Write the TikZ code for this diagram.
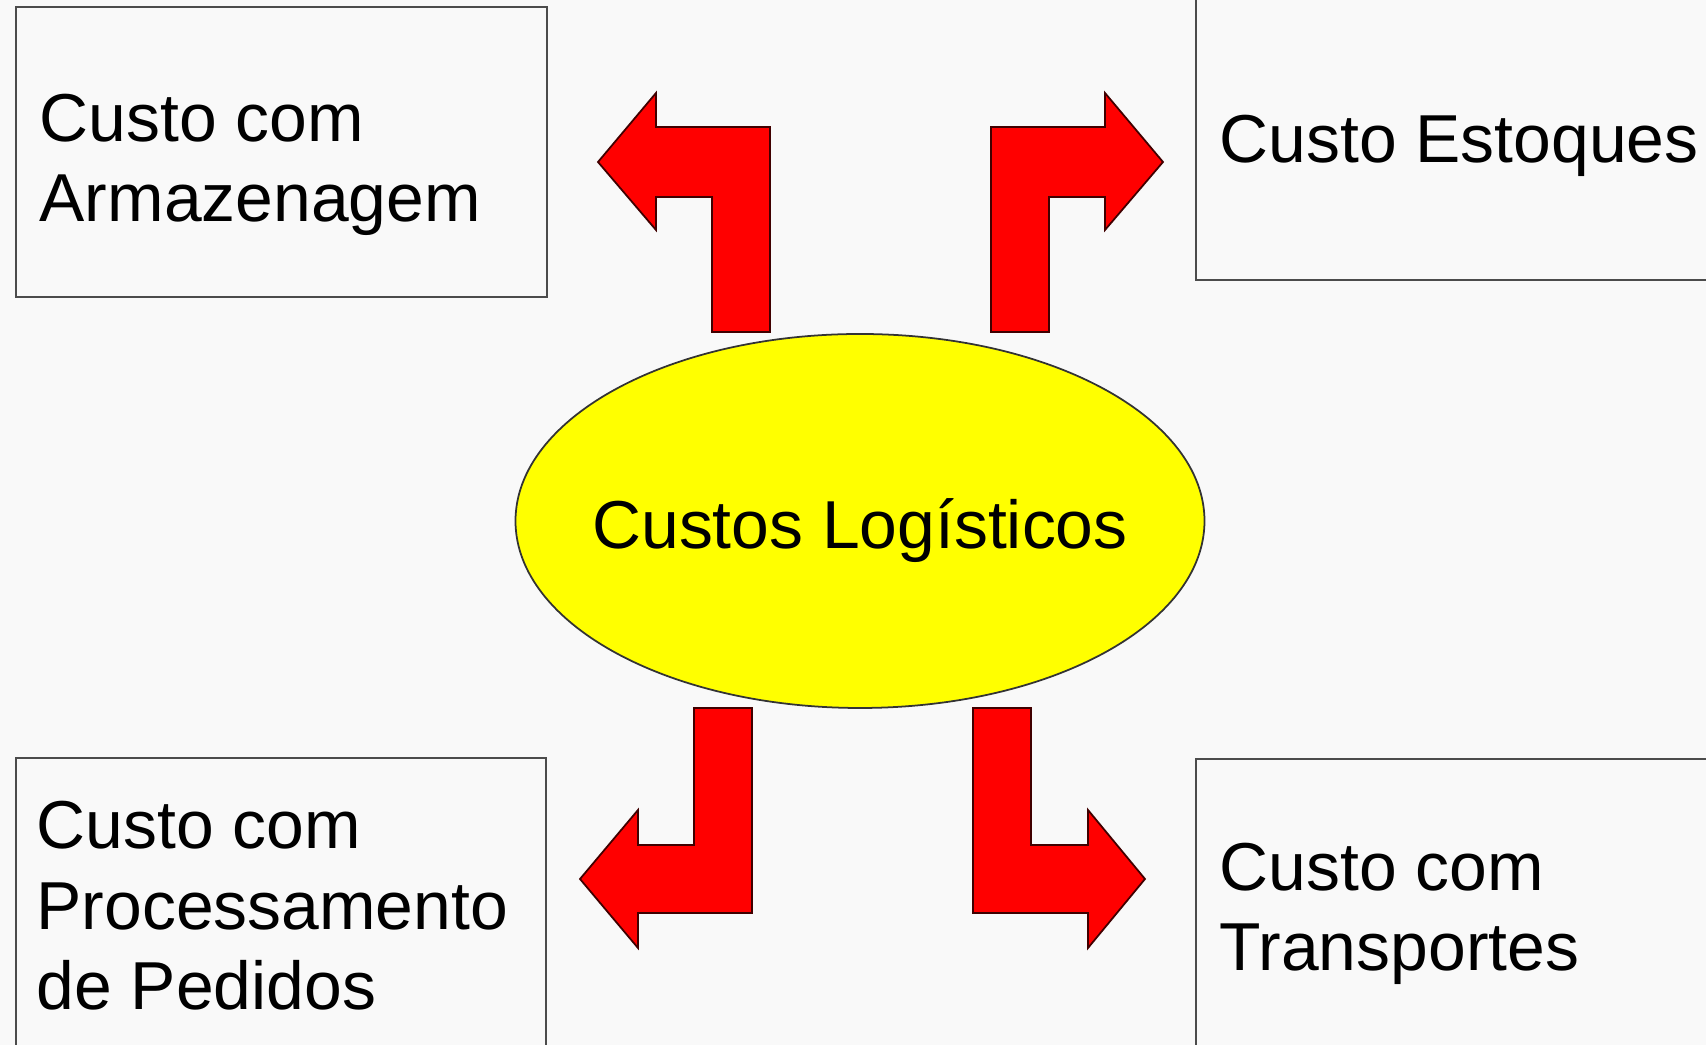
\documentclass[tikz,border=0pt]{standalone}
\usepackage{fontspec}
\setmainfont{Liberation Sans}
\definecolor{amarelo}{RGB}{255,255,0}
\definecolor{vermelho}{RGB}{255,0,0}

\begin{document}
\begin{tikzpicture}[x=0.1mm, y=-0.1mm,
    box/.style = {draw=gray!60!black, line width=0.8pt},
    txt/.style = {anchor=base west, align=left, inner sep=0pt,
        font=\fontsize{19.3}{23}\selectfont},
    bent/.style = {fill=vermelho, draw=red!25!black, line width=0.5pt}]
\useasboundingbox (0,0) rectangle (1706,1045);
\fill[gray!5] (0,0) rectangle (1706,1045);
\clip (0,0) rectangle (1706,1045);
\draw[box] (16,7) rectangle (547,297);
\draw[box] (1196,-20) rectangle (1730,280);
\draw[box] (16,758) rectangle (546,1070);
\draw[box] (1196,759) rectangle (1730,1070);
\node[txt] (armazenagem) at (39,222) {Custo com\\Armazenagem};
\node[txt] (estoques) at (1219,163) {Custo Estoques};
\node[txt] (pedidos) at (36,1010) {Custo com\\Processamento\\de Pedidos};
\node[txt] (transportes) at (1219,971) {Custo com\\Transportes};
\draw[fill=amarelo, draw=black!80, line width=0.5pt] (860,521) ellipse [x radius=344.5, y radius=187];
\node[anchor=base, inner sep=0pt, font=\fontsize{19.3}{23}\selectfont]
    (logisticos) at (860,549) {Custos Logísticos};
\draw[bent] (770,332) -- (770,127) -- (656,127) -- (656,93) -- (598,162)
    -- (656,230) -- (656,197) -- (712,197) -- (712,332) -- cycle;
\draw[bent] (991,332) -- (991,127) -- (1105,127) -- (1105,93) -- (1163,162)
    -- (1105,230) -- (1105,197) -- (1049,197) -- (1049,332) -- cycle;
\draw[bent] (694,708) -- (752,708) -- (752,913) -- (638,913) -- (638,948)
    -- (580,879) -- (638,810) -- (638,845) -- (694,845) -- cycle;
\draw[bent] (973,708) -- (1031,708) -- (1031,845) -- (1088,845) -- (1088,810)
    -- (1145,879) -- (1088,948) -- (1088,913) -- (973,913) -- cycle;
\end{tikzpicture}
\end{document}
